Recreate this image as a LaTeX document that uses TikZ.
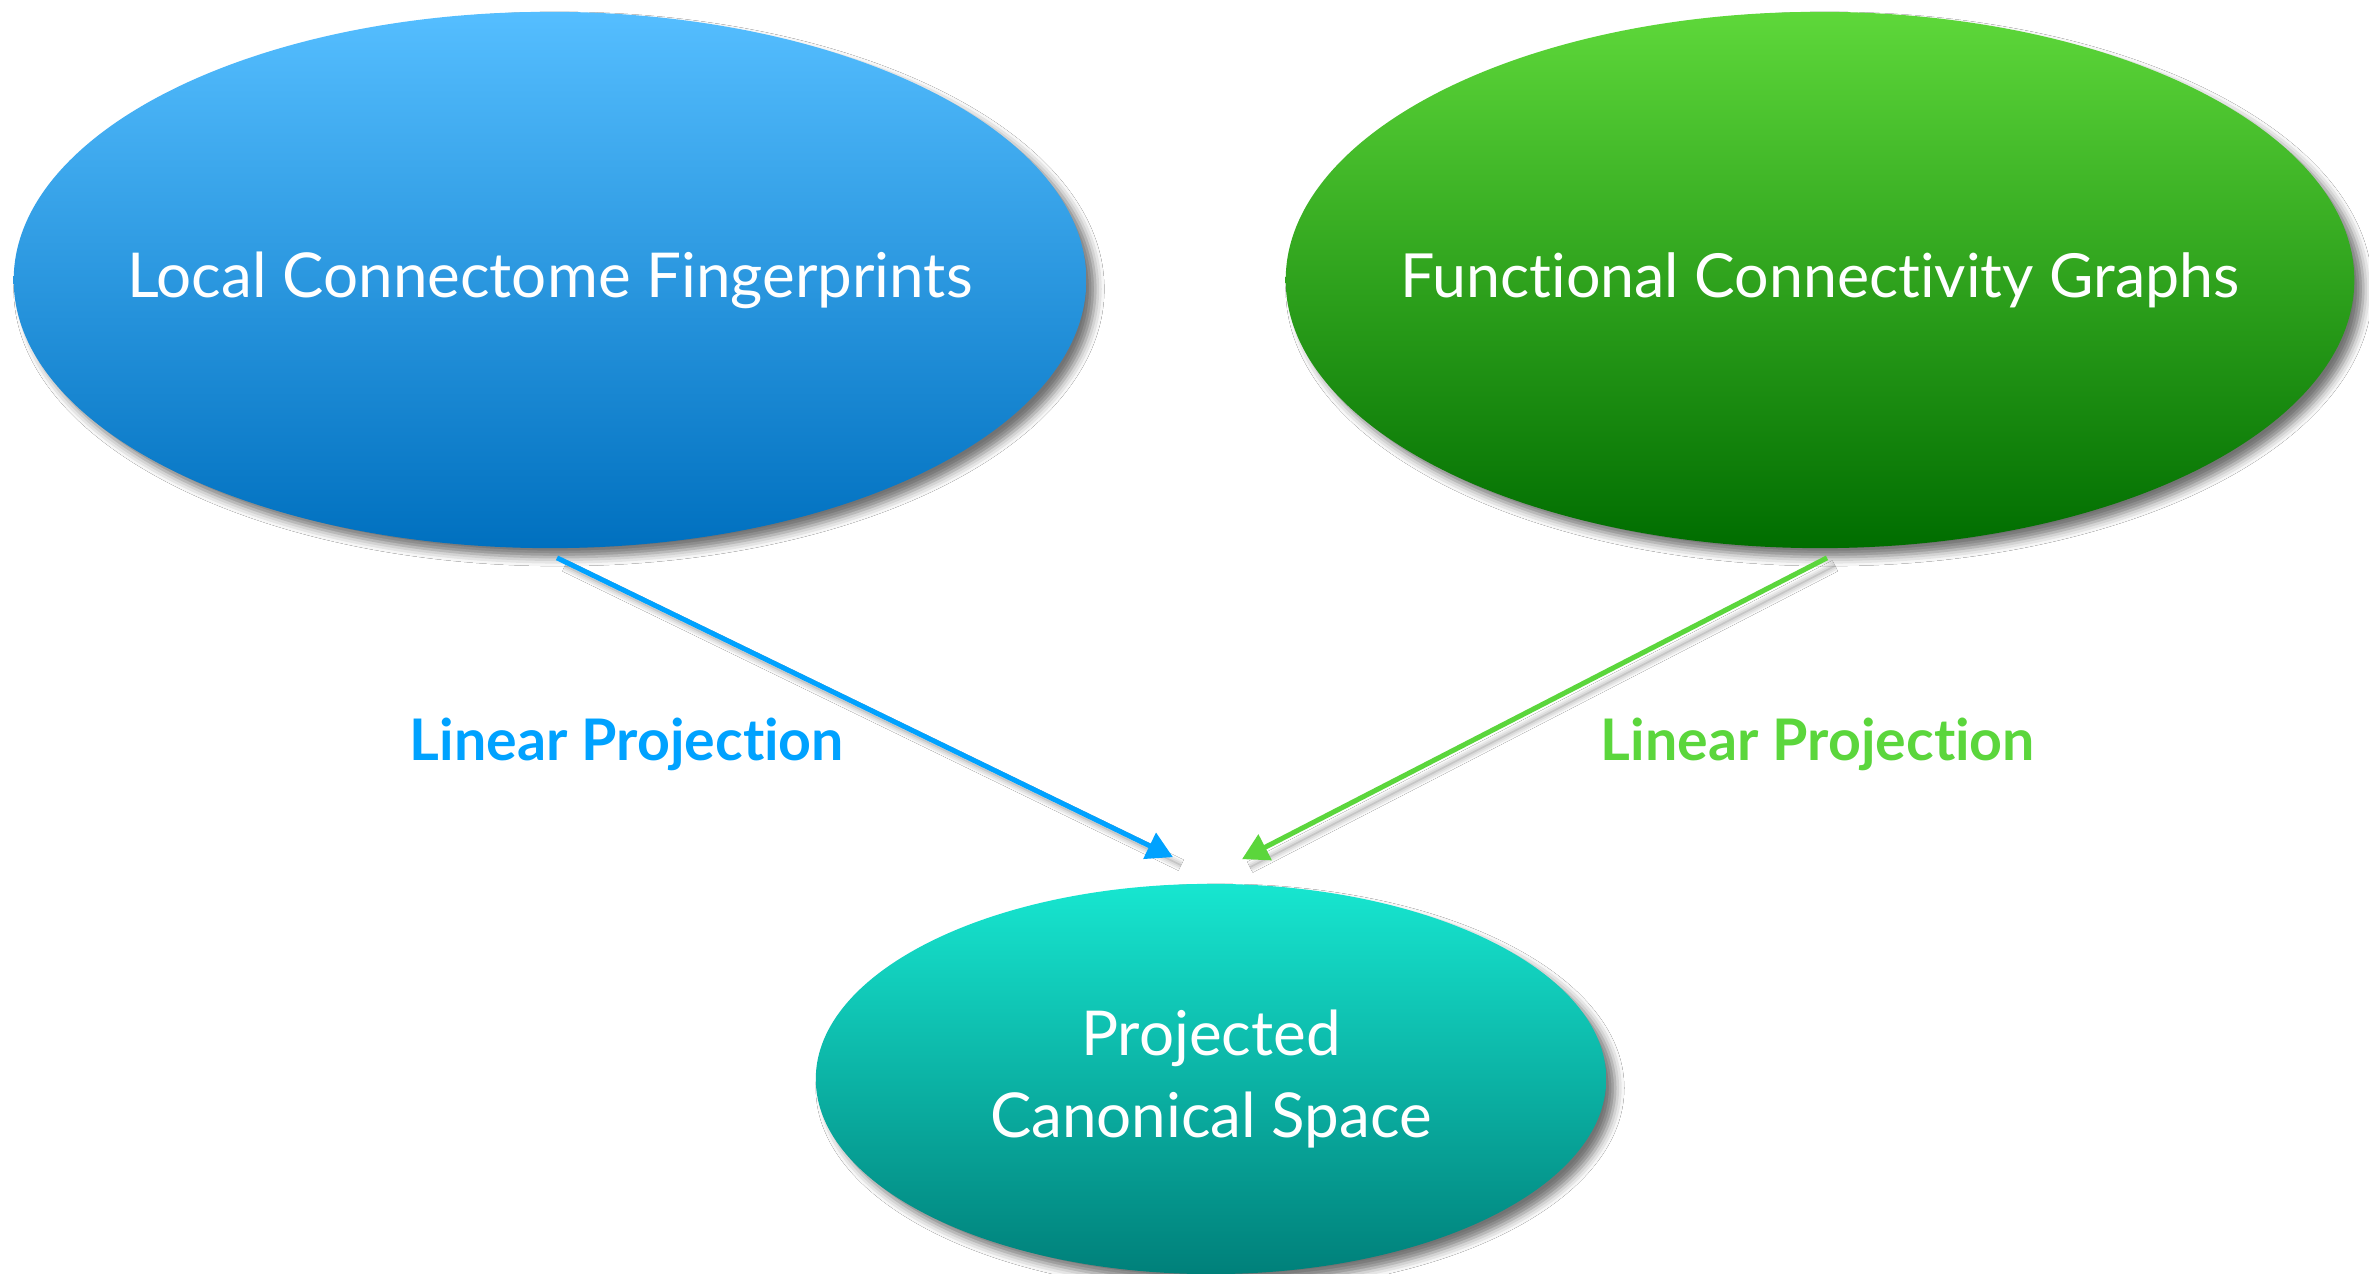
\documentclass[tikz,border=0pt]{standalone}
\usepackage{fontspec}
\setmainfont{Lato}[Ligatures={NoCommon,NoRequired,NoContextual}]
\usetikzlibrary{shapes.geometric,shadows.blur,arrows.meta}
\definecolor{bluetop}{HTML}{55BEFF}
\definecolor{bluebot}{HTML}{0070BF}
\definecolor{greentop}{HTML}{5ED83A}
\definecolor{greenbot}{HTML}{006D00}
\definecolor{tealtop}{HTML}{17E6D0}
\definecolor{tealbot}{HTML}{00807A}
\definecolor{bluearrow}{HTML}{00A2FF}
\definecolor{greenarrow}{HTML}{5BD63C}
\newcommand{\zb}[2][0pt]{\raisebox{#1}{\makebox[0pt][c]{#2}}}
\tikzset{
  oval/.style={ellipse, inner sep=0pt, text=white, align=center,
    font=\fontsize{17.6}{23.5}\selectfont,
    blur shadow={shadow xshift=0.09cm, shadow yshift=-0.09cm, shadow blur radius=0.09cm, shadow opacity=55}},
  proj/.style={line width=0.05cm, -{Triangle[length=0.26cm,width=0.28cm]},
    blur shadow={shadow xshift=0.08cm, shadow yshift=-0.08cm, shadow blur radius=0.06cm, shadow opacity=45}},
  lab/.style={font=\fontsize{16.3}{18}\selectfont\bfseries}
}
\begin{document}
\begin{tikzpicture}[x=0.01cm,y=-0.01cm]
\fill[white] (0,0) rectangle (2369,1274);
\useasboundingbox (0,0) rectangle (2369,1274);
\node[oval, minimum width=10.72cm, minimum height=5.36cm, top color=bluetop, bottom color=bluebot] (L) at (550,280) {\zb[-0.03cm]{Local Connectome Fingerprints}};
\node[oval, minimum width=10.68cm, minimum height=5.36cm, top color=greentop, bottom color=greenbot, font=\fontsize{17.3}{23.5}\selectfont] (R) at (1820,280) {\zb[-0.03cm]{Functional Connectivity Graphs}};
\node[oval, minimum width=7.9cm, minimum height=3.9cm, top color=tealtop, bottom color=tealbot] (B) at (1211,1079) {\zb{Projected}\\\zb{Canonical Space}};
\draw[proj, bluearrow] ([xshift=0.07cm,yshift=-0.09cm]L.south) -- ([xshift=-0.38cm,yshift=0.26cm]B.north);
\draw[proj, greenarrow] ([xshift=0.07cm,yshift=-0.09cm]R.south) -- ([xshift=0.31cm,yshift=0.24cm]B.north);
\node[lab, text=bluearrow] (l1) at (627,744) {Linear Projection};
\node[lab, text=greenarrow] (l2) at (1818,744) {Linear Projection};
\end{tikzpicture}
\end{document}
